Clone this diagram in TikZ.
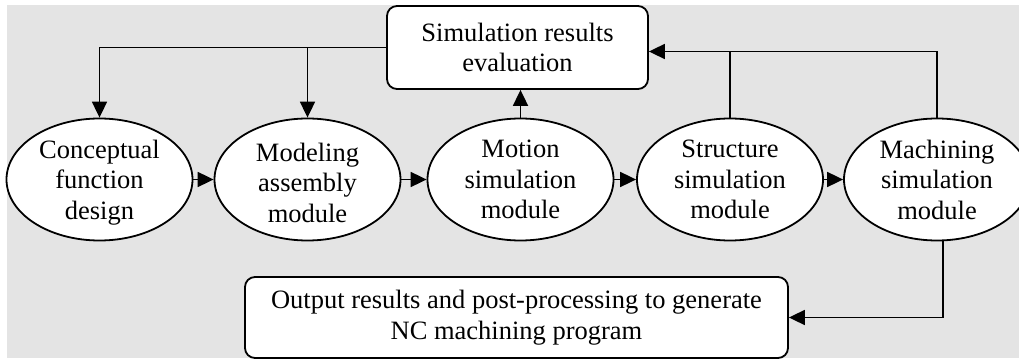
\documentclass[tikz,border=0pt]{standalone}
\usepackage{fontspec}
\setmainfont{Liberation Serif}
\usetikzlibrary{shapes.geometric,arrows.meta}
\definecolor{panel}{RGB}{228,228,228}
\tikzset{
  x=1pt, y=1pt,
  every node/.style={font=\fontsize{26.5}{30.5}\selectfont},
  ell/.style={draw, line width=1.8pt, fill=white, ellipse, inner sep=0pt,
    minimum width=186pt, minimum height=122pt},
  etext/.style={align=center, inner sep=0pt},
  rbox/.style={draw, line width=1.8pt, fill=white, rounded corners=10pt,
    inner sep=0pt, align=center},
  conn/.style={line width=1.8pt},
  arr/.style={conn, -{Triangle[length=16pt,width=15pt]}},
}
\begin{document}
\begin{tikzpicture}
\useasboundingbox (0,0) rectangle (1019,359);
\clip (0,0) rectangle (1019,359);
\fill[panel] (7,1) rectangle (1019,354);

% evaluation box on top
\node[rbox, minimum width=261pt, minimum height=83pt] (eval) at (517.5,311.5)
  {Simulation results\\evaluation};

% chain of modules
\node[ell] (e1) at (99.5,179.5) {};
\node[ell] (e2) at (307.5,179.5) {};
\node[ell] (e3) at (520.5,179.5) {};
\node[ell] (e4) at (730,179.5) {};
\node[ell] (e5) at (937,179.5) {};
\node[etext] (t1) at ([yshift=-3pt]e1.center) {Conceptual\\function\\design};
\node[etext] (t2) at ([yshift=-3pt]e2.center) {Modeling\\assembly\\module};
\node[etext] (t3) at (e3.center) {Motion\\simulation\\module};
\node[etext] (t4) at (e4.center) {Structure\\simulation\\module};
\node[etext] (t5) at (e5.center) {Machining\\simulation\\module};

% output box at the bottom
\node[rbox, minimum width=543pt, minimum height=81pt] (out) at (516.5,41.5)
  {Output results and post-processing to generate\\NC machining program};

% forward flow
\draw[arr] (e1.east) -- (e2.west);
\draw[arr] (e2.east) -- (e3.west);
\draw[arr] (e3.east) -- (e4.west);
\draw[arr] (e4.east) -- (e5.west);

% feedback from evaluation to the first two modules
\draw[arr] (eval.west) -| (e1.north);
\draw[arr] (e2.north |- eval.west) -- (e2.north);

% motion results to evaluation
\draw[arr] (e3.north) -- (e3.north |- eval.south);

% structure and machining results to evaluation
\coordinate (rj) at ([yshift=-4pt]eval.east);
\draw[arr] (e5.north) |- (rj);
\draw[conn] (e4.north) -- (e4.north |- rj);

% machining module to output
\coordinate (mo) at ([xshift=6pt]e5.south);
\draw[arr] (mo) |- (out.east);
\end{tikzpicture}
\end{document}
